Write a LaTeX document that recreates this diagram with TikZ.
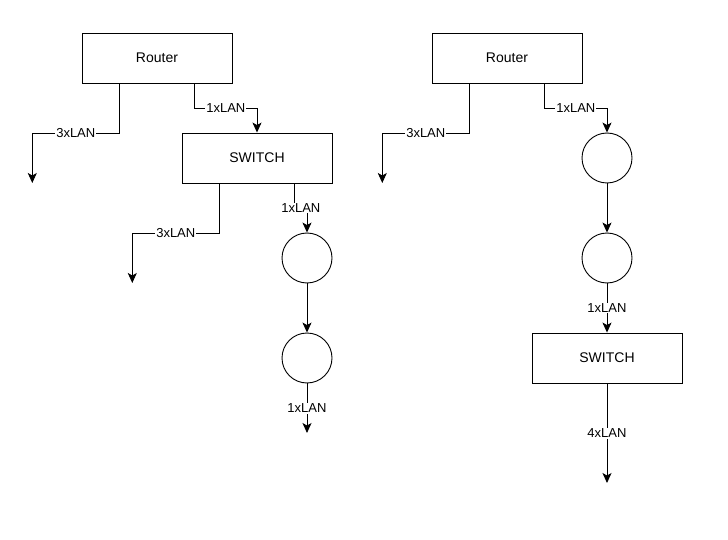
\documentclass[tikz,border=0pt]{standalone}
\usepackage{fontspec}
\setmainfont{Liberation Sans}
\usetikzlibrary{arrows.meta,calc}
\begin{document}
\begin{tikzpicture}[x=1pt,y=-1pt,
 box/.style={draw,line width=0.9pt,minimum width=150pt,minimum height=50pt,inner sep=0pt,font=\fontsize{14}{16}\selectfont},
 hub/.style={draw,circle,line width=0.9pt,minimum size=50pt,inner sep=0pt},
 link/.style={line width=0.9pt,-{Stealth[length=10pt,width=9pt,inset=2.5pt]}},
 lbl/.style={fill=white,inner sep=1pt,font=\fontsize{13}{15}\selectfont}]
\fill[white] (0,0) rectangle (728,540);
\useasboundingbox (0,0) rectangle (728,540);

% ---------- left ----------
\node[box] (r1) at (157,58) {Router};
\node[box] (s1) at (257,158) {SWITCH};
\node[hub] (c1) at (307,258) {};
\node[hub] (c2) at (307,358) {};

\coordinate (r1a) at ($(r1.south west)!0.25!(r1.south east)$);
\coordinate (r1b) at ($(r1.south west)!0.75!(r1.south east)$);
\coordinate (s1a) at ($(s1.south west)!0.25!(s1.south east)$);
\coordinate (s1b) at ($(s1.south west)!0.75!(s1.south east)$);
\coordinate (e1) at (32.3,183);
\coordinate (e2) at (132.3,283);
\coordinate (e3) at (307,433);

\draw[link] (r1a) -- (r1a |- 0,133.3) -- node[lbl]{3xLAN} (e1 |- 0,133.3) -- (e1);
\draw[link] (r1b) -- (r1b |- 0,108) -- node[lbl]{1xLAN} (s1.north |- 0,108) -- (s1.north);
\draw[link] (s1a) -- (s1a |- 0,233.3) -- node[lbl]{3xLAN} (e2 |- 0,233.3) -- (e2);
\draw[link] (s1b) -- (s1b |- 0,208) -- node[lbl]{1xLAN} (c1.north |- 0,208) -- (c1.north);
\draw[link] (c1.south) -- (c2.north);
\draw[link] (c2.south) -- node[lbl]{1xLAN} (e3);

% ---------- right ----------
\node[box] (r2) at (507,58) {Router};
\node[hub] (c3) at (607,158) {};
\node[hub] (c4) at (607,258) {};
\node[box] (s2) at (607,358) {SWITCH};

\coordinate (r2a) at ($(r2.south west)!0.25!(r2.south east)$);
\coordinate (r2b) at ($(r2.south west)!0.75!(r2.south east)$);
\coordinate (e4) at (382.3,183);
\coordinate (e5) at (607,483);

\draw[link] (r2a) -- (r2a |- 0,133.3) -- node[lbl]{3xLAN} (e4 |- 0,133.3) -- (e4);
\draw[link] (r2b) -- (r2b |- 0,108) -- node[lbl]{1xLAN} (c3.north |- 0,108) -- (c3.north);
\draw[link] (c3.south) -- (c4.north);
\draw[link] (c4.south) -- node[lbl]{1xLAN} (s2.north);
\draw[link] (s2.south) -- node[lbl]{4xLAN} (e5);
\end{tikzpicture}
\end{document}
